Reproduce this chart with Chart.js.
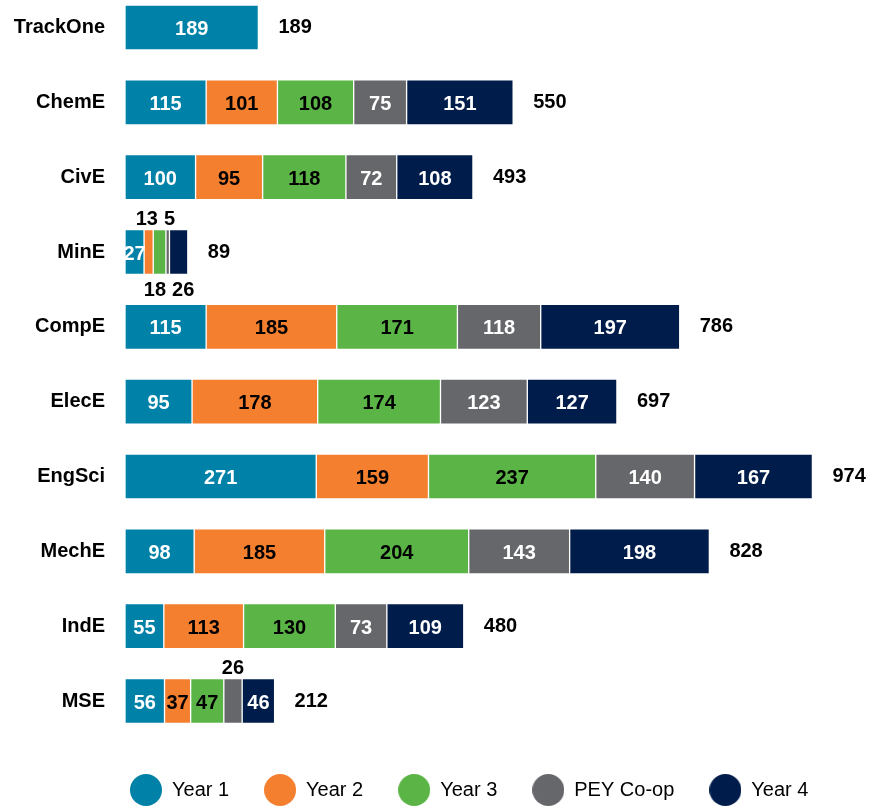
<!DOCTYPE html>
<html>
<head>
<meta charset="utf-8">
<script src="https://cdn.jsdelivr.net/npm/chart.js@4/dist/chart.umd.min.js"></script>
<style>
  html, body { margin: 0; padding: 0; background: #ffffff; }
  canvas { display: block; }
</style>
</head>
<body>
<canvas id="c" width="869" height="807"></canvas>
<script>
const categories = ['TrackOne', 'ChemE', 'CivE', 'MinE', 'CompE', 'ElecE', 'EngSci', 'MechE', 'IndE', 'MSE'];
const seriesNames = ['Year 1', 'Year 2', 'Year 3', 'PEY Co-op', 'Year 4'];
const year1   = [189, 115, 100, 27, 115,  95, 271,  98,  55, 56];
const year2   = [null, 101, 95, 13, 185, 178, 159, 185, 113, 37];
const year3   = [null, 108, 118, 18, 171, 174, 237, 204, 130, 47];
const peyCoop = [null, 75,  72,  5, 118, 123, 140, 143,  73, 26];
const year4   = [null, 151, 108, 26, 197, 127, 167, 198, 109, 46];
const seriesValues = [year1, year2, year3, peyCoop, year4];

const colors = ['#0081a7', '#f37f2f', '#5bb446', '#66676b', '#001c4b'];
const textColors = ['#ffffff', '#000000', '#000000', '#ffffff', '#ffffff'];
const FONT_FAMILY = '"Liberation Sans", Arial, Helvetica, sans-serif';

function circleImage(color, d) {
  const cv = document.createElement('canvas');
  cv.width = d; cv.height = d;
  const c = cv.getContext('2d');
  c.fillStyle = color;
  c.beginPath();
  c.arc(d / 2, d / 2, d / 2, 0, Math.PI * 2);
  c.fill();
  return cv;
}
const legendImages = colors.map(c => circleImage(c, 32));

const legendShift = {
  id: 'legendShift',
  afterLayout(chart) {
    if (chart.legend) { chart.legend.left = 95; }
  }
};

const labelPlugin = {
  id: 'segmentLabels',
  afterDatasetsDraw(chart) {
    const ctx = chart.ctx;
    const xScale = chart.scales.x;
    ctx.save();
    ctx.font = 'bold 20px ' + FONT_FAMILY;
    chart.data.labels.forEach((lab, i) => {
      const outside = { above: [], below: [] };
      let alt = 0;
      let total = 0;
      let barY = 0;
      chart.data.datasets.forEach((ds, di) => {
        const v = ds.data[i];
        if (v == null) return;
        total += v;
        const bar = chart.getDatasetMeta(di).data[i];
        barY = bar.y;
        const cx = (bar.x + bar.base) / 2;
        const top = bar.y - bar.height / 2;
        const bottom = bar.y + bar.height / 2;
        const txt = String(v);
        const w = ctx.measureText(txt).width;
        if (v >= 27) {
          ctx.fillStyle = textColors[di];
          ctx.textAlign = 'center';
          ctx.textBaseline = 'middle';
          ctx.fillText(txt, cx, bar.y + 2);
        } else {
          const side = (alt % 2 === 0) ? 'above' : 'below';
          alt++;
          outside[side].push({ txt, x: cx, w, y: side === 'above' ? top - 4.5 : bottom + 21 });
        }
      });
      ['above', 'below'].forEach(side => {
        const arr = outside[side];
        for (let k = 1; k < arr.length; k++) {
          const p = arr[k - 1], q = arr[k];
          const pr = p.x + p.w / 2, ql = q.x - q.w / 2;
          if (ql < pr + 6) {
            const d = pr + 6 - ql;
            p.x -= d / 2; q.x += d / 2;
          }
        }
        arr.forEach(o => {
          ctx.fillStyle = '#000000';
          ctx.textAlign = 'center';
          ctx.textBaseline = 'alphabetic';
          ctx.fillText(o.txt, o.x, o.y);
        });
      });
      ctx.fillStyle = '#000000';
      ctx.textAlign = 'left';
      ctx.textBaseline = 'middle';
      ctx.fillText(String(total), xScale.getPixelForValue(total) + 20, barY);
    });
    ctx.restore();
  }
};

const datasets = seriesNames.map((name, k) => ({
  label: name,
  data: seriesValues[k],
  backgroundColor: colors[k],
  borderColor: 'rgba(255,255,255,0.45)',
  borderWidth: 1,
  borderSkipped: false,
  barThickness: 45,
  clip: false
}));

new Chart(document.getElementById('c'), {
  type: 'bar',
  data: { labels: categories, datasets },
  options: {
    indexAxis: 'y',
    responsive: false,
    animation: false,
    layout: { padding: { top: 27.5, bottom: -3, left: 0, right: 10 } },
    scales: {
      x: {
        stacked: true,
        min: 0,
        max: 1040,
        display: true,
        ticks: { display: false },
        grid: { display: false, drawTicks: false },
        border: { display: false },
        afterFit: s => { s.height = 44; }
      },
      y: {
        stacked: true,
        offset: false,
        grid: { display: false, drawTicks: true, tickLength: 20 },
        border: { display: false },
        ticks: {
          color: '#000000',
          padding: 0,
          font: { family: FONT_FAMILY, size: 20, weight: 'bold' }
        },
        afterFit: s => { s.width = 125; }
      }
    },
    plugins: {
      tooltip: { enabled: false },
      legend: {
        position: 'bottom',
        align: 'start',
        labels: {
          usePointStyle: true,
          pointStyleWidth: 32,
          padding: 35,
          color: '#000000',
          font: { family: FONT_FAMILY, size: 20, weight: 'normal' },
          generateLabels(chart) {
            const items = Chart.defaults.plugins.legend.labels.generateLabels(chart);
            items.forEach((it, idx) => { it.pointStyle = legendImages[idx]; });
            return items;
          }
        }
      }
    }
  },
  plugins: [labelPlugin, legendShift]
});
</script>
</body>
</html>
